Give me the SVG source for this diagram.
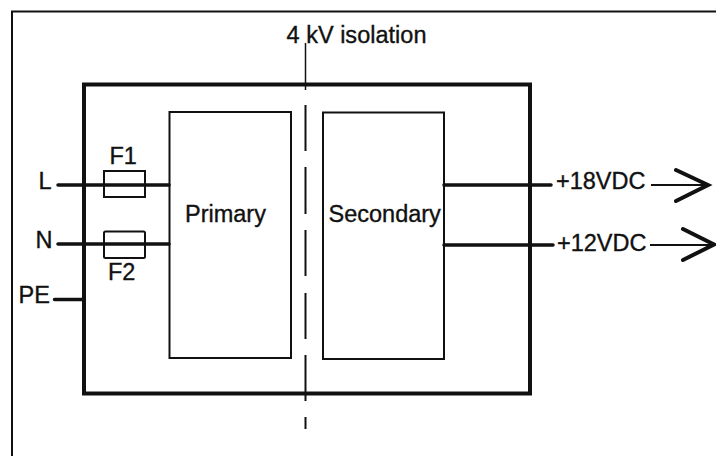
<svg xmlns="http://www.w3.org/2000/svg" width="716" height="456" viewBox="0 0 716 456">
<style>
.t{font-family:"Liberation Sans",Arial,sans-serif;font-size:23.500px;fill:#111;stroke:#111;stroke-width:.35}
.box{fill:#fff;stroke:#111;stroke-width:2}
.frame{fill:none;stroke:#111;stroke-width:2}
.main{fill:none;stroke:#111;stroke-width:4}
.w{fill:none;stroke:#111;stroke-width:3.500;stroke-linecap:round}
.i{fill:none;stroke:#111;stroke-width:2}
.a{fill:none;stroke:#111;stroke-width:4;stroke-linecap:round;stroke-linejoin:miter}
</style>
<rect width="716" height="456" fill="#fff"/>
<path id="frame" class="frame" d="M12 456V11.500H716"/>
<g id="module"><rect class="main" x="84" y="84.500" width="446" height="309"/></g>
<g id="primary"><rect class="box" x="169.500" y="112" width="121.500" height="246"/><text class="t" x="185" y="222">Primary</text></g>
<g id="secondary"><rect class="box" x="323" y="112.500" width="121" height="246.500"/><text class="t" x="328.500" y="222">Secondary</text></g>
<g id="connectors">
<path class="w" d="M58 185H169M58 244H169M54.500 299.500H84M444 185H551M444 245H553"/>
<path class="i" d="M651 185H705M650 245H712"/>
<path class="a" d="M676 170L708 185L676 201M683 229L714 244.500L683 260"/>
<path class="i" style="stroke-width:1.500" d="M305.500 43V90"/>
<path class="i" d="M305.500 105V151M305.500 167V214M305.500 230V276M305.500 293V339M305.500 355V401M305.500 417V429"/>
</g>
<g id="F1"><rect class="i" x="104" y="171" width="41" height="26"/><text class="t" x="109.500" y="164">F1</text></g>
<g id="F2"><rect class="i" x="104" y="231.500" width="41" height="26.500" rx="1.500"/><text class="t" x="108" y="280">F2</text></g>
<g id="labels">
<text class="t" x="286.500" y="43" textLength="140">4 kV isolation</text>
<text class="t" x="38.500" y="188.500">L</text>
<text class="t" x="35.500" y="247.500">N</text>
<text class="t" x="18.500" y="303">PE</text>
<text class="t" x="556" y="189">+18VDC</text>
<text class="t" x="557" y="250.500">+12VDC</text>
</g>
</svg>
